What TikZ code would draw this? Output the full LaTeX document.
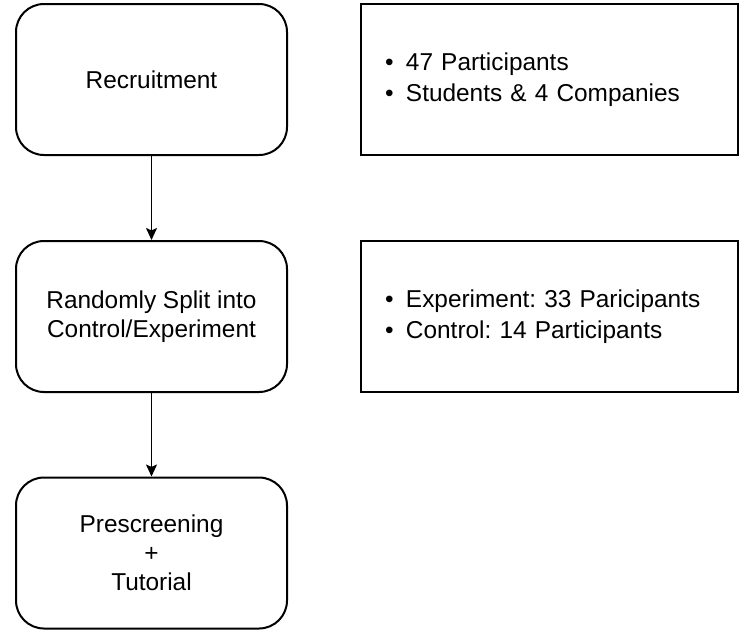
\documentclass[tikz,border=0pt]{standalone}
\usepackage{fontspec}
\setmainfont{Liberation Sans}
\usetikzlibrary{arrows.meta}
\newcommand{\bul}{\makebox[10.5pt][l]{\textbullet}}
\frenchspacing

\begin{document}
\begin{tikzpicture}[x=0.5pt,y=-0.5pt,
    stage/.style={draw,line width=1pt,rounded corners=14pt,minimum width=135.5pt,minimum height=75.5pt,align=center,font=\fontsize{12.2}{14.5}\selectfont},
    info/.style={draw,line width=1pt,minimum height=75.5pt,text width=164.5pt,inner xsep=12pt,align=left,font=\fontsize{12.2}{15.5}\selectfont}]
  \useasboundingbox (0,0) rectangle (740,629);
  \node[stage] (rec) at (151.5,79.5) {Recruitment};
  \node[stage] (split) at (151.5,316.5) {Randomly Split into\\Control/Experiment};
  \node[stage] (pre) at (151.5,553) {Prescreening\\+\\Tutorial};
  \node[info] (recinfo) at (549.5,79.5) {\bul 47 Participants\\\bul Students \& 4 Companies};
  \node[info] (splitinfo) at (549.5,316.5) {\bul Experiment: 33 Paricipants\\\bul Control: 14 Participants};
  \foreach \a/\b in {rec/split,split/pre} \draw[line width=0.8pt,-{Stealth[length=6pt,width=5.5pt,inset=1.2pt]}] (\a) -- (\b);
\end{tikzpicture}
\end{document}
